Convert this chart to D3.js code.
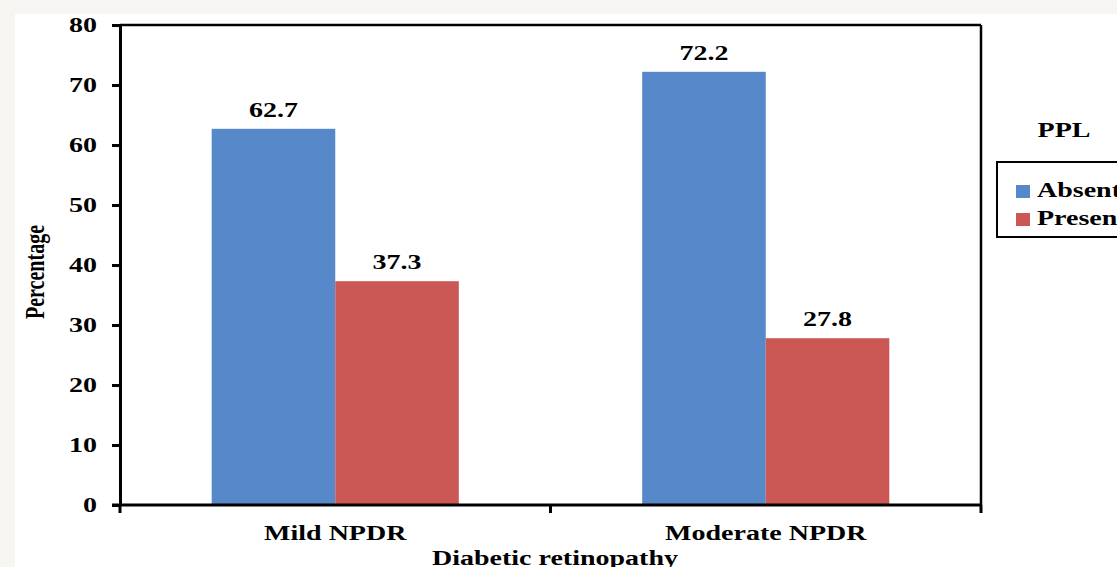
<!DOCTYPE html>
<html><head><meta charset="utf-8">
<script src="https://cdn.jsdelivr.net/npm/d3@7"></script>
<style>body{margin:0;background:#f7f5f1;} svg{display:block;}</style>
</head><body>
<svg id="c" width="1117" height="567"></svg>
<script>
const categories = ["Mild NPDR", "Moderate NPDR"];
const seriesNames = ["Absent", "Present"];
const absentValues = [62.7, 72.2];
const presentValues = [37.3, 27.8];
const yTicks = [0, 10, 20, 30, 40, 50, 60, 70, 80];
const colors = ["#5789ca", "#cc5855"];
const SX = 1.4;
const FONT = "'Liberation Serif','Times New Roman',serif";

const svg = d3.select("#c");
svg.append("rect").attr("width", 1117).attr("height", 567).attr("fill", "#f7f5f1");
svg.append("rect").attr("x", 15).attr("y", 14).attr("width", 1102).attr("height", 553).attr("fill", "#ffffff");

const L = 120, R = 981, T = 25, B = 505;
const y = d3.scaleLinear().domain([0, 80]).range([B, T]);
const x0 = d3.scaleBand().domain(categories).range([L, R]).paddingInner(0.426).paddingOuter(0.213);
const x1 = d3.scaleBand().domain(seriesNames).range([0, x0.bandwidth()]);

function stext(g, x, yy, str, anchor, rot) {
  return g.append("text")
    .attr("transform", `translate(${x},${yy}) scale(${SX},1)` + (rot ? " rotate(-90)" : ""))
    .attr("text-anchor", anchor || "middle")
    .attr("font-family", FONT).attr("font-weight", "bold").attr("font-size", 20)
    .attr("fill", "#000").text(str);
}

// bars
const data = categories.map((c, i) => ({cat: c, vals: [absentValues[i], presentValues[i]]}));
const grp = svg.append("g");
data.forEach(d => {
  d.vals.forEach((v, j) => {
    const bx = x0(d.cat) + x1(seriesNames[j]);
    grp.append("rect").attr("x", bx).attr("y", y(v))
      .attr("width", x1.bandwidth()).attr("height", B - y(v)).attr("fill", colors[j]);
    stext(svg, bx + x1.bandwidth() / 2, y(v) - 12, v.toFixed(1), "middle");
  });
});

// frame top/right
svg.append("line").attr("x1", L).attr("x2", R).attr("y1", T).attr("y2", T).attr("stroke", "#000").attr("stroke-width", 2.5);
svg.append("line").attr("x1", R).attr("x2", R).attr("y1", T).attr("y2", B).attr("stroke", "#000").attr("stroke-width", 2.5);

// y axis
const yAx = svg.append("g").attr("transform", `translate(${L},0)`)
  .call(d3.axisLeft(y).tickValues(yTicks).tickSize(8).tickSizeOuter(0).tickFormat(""));
yAx.selectAll("path,line").attr("stroke", "#000").attr("stroke-width", 3);
yTicks.forEach(t => stext(svg, 97, y(t) + 7, String(t), "end"));

// x axis
const xTickPos = [L, (L + R) / 2, R];
svg.append("line").attr("x1", L - 8).attr("x2", R + 1).attr("y1", B).attr("y2", B).attr("stroke", "#000").attr("stroke-width", 3);
xTickPos.forEach(p => svg.append("line").attr("x1", p).attr("x2", p).attr("y1", B).attr("y2", B + 8).attr("stroke", "#000").attr("stroke-width", 3));
categories.forEach(c => stext(svg, x0(c) + x0.bandwidth() / 2, 540, c, "middle"));

// axis titles
stext(svg, 555, 565, "Diabetic retinopathy", "middle");
stext(svg, 44, 272, "Percentage", "middle", true);

// legend
stext(svg, 1064, 137, "PPL", "middle");
svg.append("rect").attr("x", 997).attr("y", 162).attr("width", 140).attr("height", 75)
  .attr("fill", "none").attr("stroke", "#000").attr("stroke-width", 2);
seriesNames.forEach((s, i) => {
  const ly = 185 + i * 28;
  svg.append("rect").attr("x", 1016).attr("y", ly).attr("width", 14).attr("height", 13).attr("fill", colors[i]);
  stext(svg, 1037, ly + 12, s, "start");
});
</script>
</body></html>
